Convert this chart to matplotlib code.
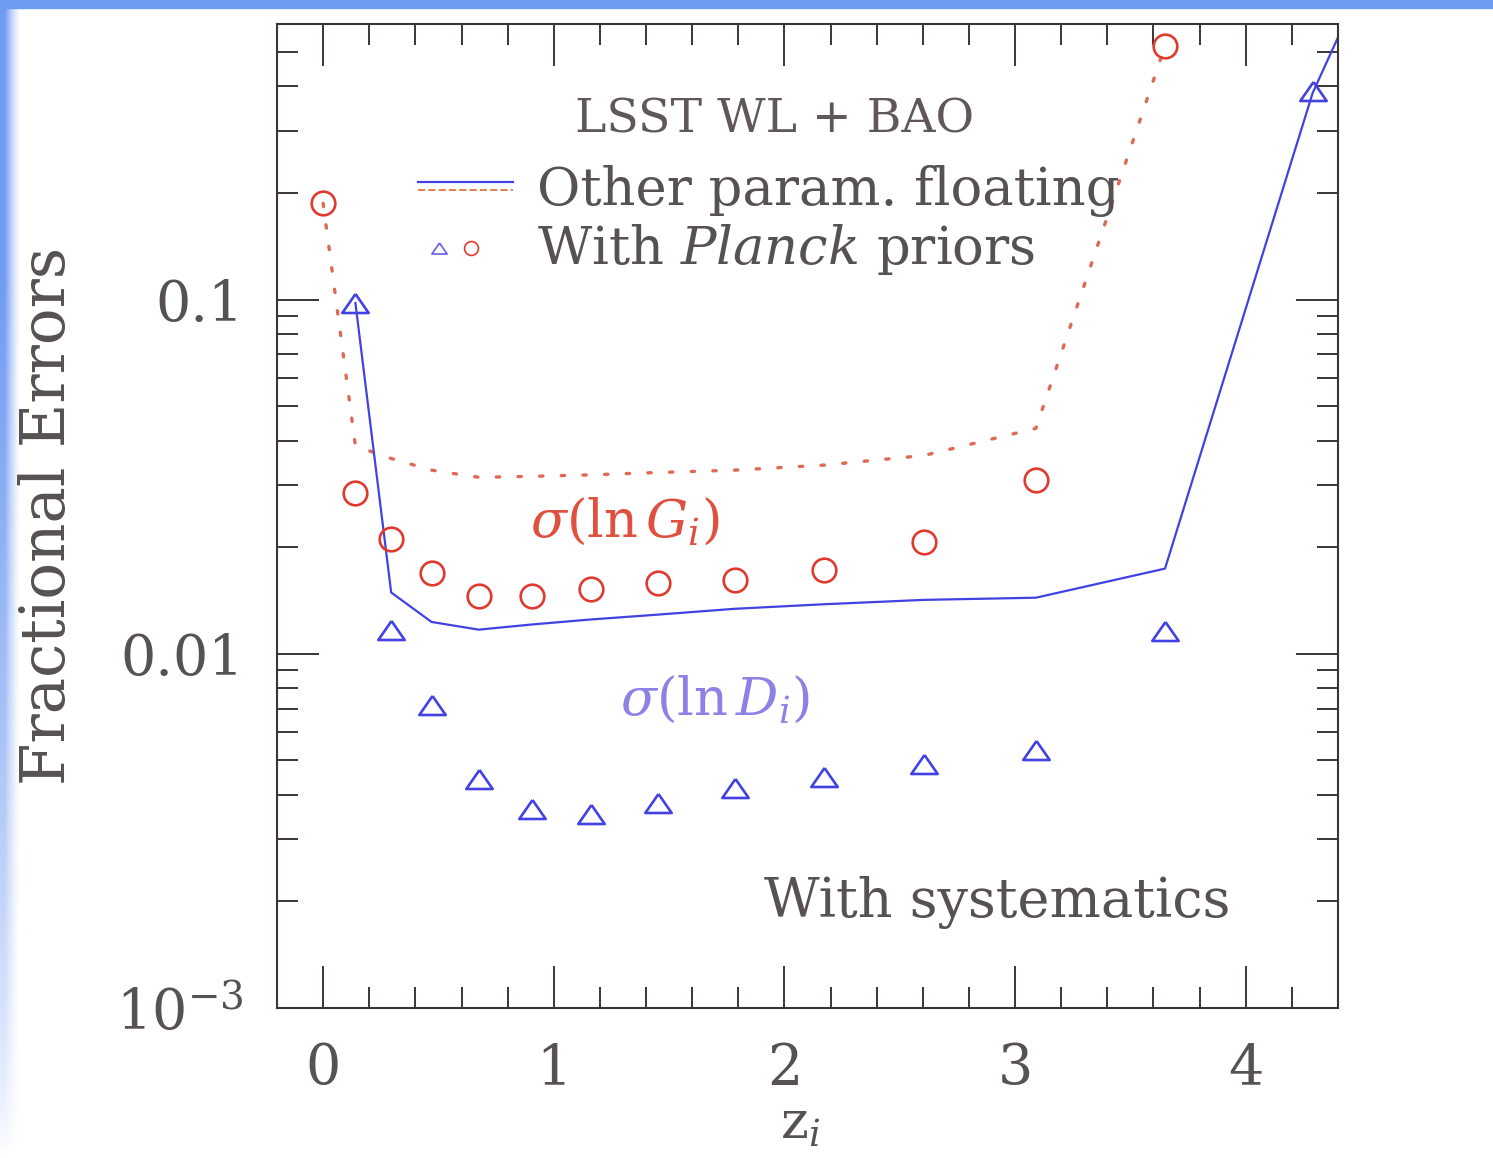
import numpy as np
import matplotlib
matplotlib.use("Agg")
import matplotlib.pyplot as plt
from matplotlib.lines import Line2D
from matplotlib.legend_handler import HandlerBase
from matplotlib.patches import Rectangle
from matplotlib.ticker import FixedLocator, MultipleLocator, LogLocator, NullFormatter

plt.rcParams['font.family'] = ['DejaVu Serif']
plt.rcParams['mathtext.fontset'] = 'dejavuserif'

# Redshift bins
z_bins = [0.0, 0.14, 0.295, 0.47, 0.675, 0.905, 1.16, 1.45, 1.785, 2.17, 2.605, 3.09, 3.65, 4.29]

# sigma(ln G_i): other parameters floating / with Planck priors (bins 0..12)
G_float = [0.187, 0.0386, 0.0356, 0.033, 0.0315, 0.0317, 0.032, 0.0325, 0.033, 0.0341, 0.0363, 0.0433, 0.52]
G_planck = [0.187, 0.0284, 0.0211, 0.0169, 0.0146, 0.0146, 0.0152, 0.0158, 0.0162, 0.0172, 0.0207, 0.0309, 0.52]

# sigma(ln D_i): other parameters floating (bins 1..13 plus the edge z=4.4) / with Planck priors
D_float_z = z_bins[1:] + [4.4]
D_float = [0.0978, 0.0149, 0.0123, 0.0117, 0.0121, 0.0125, 0.0129, 0.0134, 0.0138, 0.0142, 0.0144, 0.0174, 0.383, 0.55]
D_planck = [0.098, 0.0117, 0.00715, 0.00442, 0.00364, 0.00352, 0.00378, 0.00417, 0.0045, 0.00487, 0.00534, 0.0116, 0.388]

RED = '#e2392e'
RED_DOT = '#dc6a55'
BLUE = '#4242e4'
BLUE_TXT = '#8c82e6'
TXT = '#575151'
AX = '#3d3535'
FS = 38

fig = plt.figure(figsize=(14.93, 11.58), dpi=100)
fig.patch.set_facecolor('white')

# frame decoration: blue band along the top and a fading strip on the left
fig.patches.append(Rectangle((0, 1 - 8 / 1158), 1, 8 / 1158, transform=fig.transFigure,
                             color='#6f9cf2', zorder=0))
strip = fig.add_axes([0, 0, 24 / 1493, 1 - 8 / 1158])
strip.axis('off')
gx = np.linspace(0, 1, 40)
gy = np.linspace(1, 0, 200)
alpha = np.clip(1.3 - gx[None, :] * 1.5, 0, 1) ** 1.4 * np.clip(gy[:, None] * 1.3, 0, 1) ** 0.7
rgba = np.zeros((200, 40, 4))
rgba[..., 0] = 0.44
rgba[..., 1] = 0.61
rgba[..., 2] = 0.95
rgba[..., 3] = alpha
strip.imshow(rgba, aspect='auto', extent=[0, 1, 0, 1])

ax = fig.add_axes([277 / 1493, 1 - 1008 / 1158, 1061 / 1493, 984 / 1158])
ax.set_yscale('log')
ax.set_xlim(-0.2, 4.4)
ax.set_ylim(1e-3, 0.6)

# curves: other cosmological parameters floating
ax.plot(z_bins[:13], G_float, color=RED_DOT, lw=2.4, ls=(0, (1, 5.5)), dash_capstyle='round')
ax.plot(D_float_z, D_float, color=BLUE, lw=1.6)

# points: with Planck priors
tri = [(0, 0.72), (-1, -0.72), (1, -0.72), (0, 0.72)]
ax.plot(z_bins[:13], G_planck, ls='none', marker='o', ms=17, mfc='none', mec=RED, mew=1.9)
ax.plot(z_bins[1:], D_planck, ls='none', marker=tri, ms=19, mfc='none', mec=BLUE, mew=1.9)

# axes styling
for s in ax.spines.values():
    s.set_color(AX)
    s.set_linewidth(1.5)
ax.xaxis.set_major_locator(MultipleLocator(1))
ax.xaxis.set_minor_locator(MultipleLocator(0.2))
ax.yaxis.set_major_locator(FixedLocator([1e-3, 1e-2, 1e-1]))
ax.yaxis.set_minor_locator(LogLocator(base=10, subs=np.arange(2, 10)))
ax.yaxis.set_minor_formatter(NullFormatter())
ax.set_yticklabels(['10$^{-3}$', '0.01', '0.1'])
ax.set_xticklabels([str(int(v)) for v in ax.get_xticks()])
ax.tick_params(which='both', direction='in', top=True, right=True, colors=AX,
               labelcolor=TXT, labelsize=40, width=1.4)
ax.tick_params(which='major', length=30, pad=24)
ax.tick_params(which='minor', length=15)

ax.set_ylabel('Fractional Errors', fontsize=44, color=TXT)
ax.yaxis.set_label_coords(-0.188, 0.5)
ax.set_xlabel('z$_{i}$', fontsize=FS, color=TXT)
ax.xaxis.set_label_coords(0.493, -0.092)

ax.text(1.307, 0.0235, r'$\sigma(\ln G_i)$', color='#e0503f', fontsize=FS, ha='center', va='center')
ax.text(1.70, 0.0074, r'$\sigma(\ln D_i)$', color=BLUE_TXT, fontsize=FS, ha='center', va='center')
ax.text(0.679, 0.107, 'With systematics', transform=ax.transAxes, color=TXT, fontsize=39,
        ha='center', va='center')
ax.text(0.469, 0.903, 'LSST WL + BAO', transform=ax.transAxes, color='#605858', fontsize=34,
        ha='center', va='center')


class HandlerStacked(HandlerBase):
    """Draw a pair of line samples one above the other."""
    def create_artists(self, legend, orig_handle, xdescent, ydescent, width, height,
                       fontsize, trans):
        upper, lower = orig_handle
        yc = height / 2 - ydescent
        x0, x1 = -xdescent, width - xdescent
        a = Line2D([x0, x1], [yc + 0.12 * height] * 2, color=upper.get_color(),
                   lw=upper.get_linewidth(), ls=upper.get_linestyle(), transform=trans)
        b = Line2D([x0, x1], [yc - 0.1 * height] * 2, color=lower.get_color(),
                   lw=lower.get_linewidth(), ls=lower.get_linestyle(), transform=trans)
        return [a, b]


class HandlerMarkerPair(HandlerBase):
    """Draw two marker samples side by side."""
    def create_artists(self, legend, orig_handle, xdescent, ydescent, width, height,
                       fontsize, trans):
        out = []
        yc = height / 2 - ydescent - 0.08 * height
        for frac, h in zip((0.22, 0.56), orig_handle):
            m = Line2D([frac * width - xdescent], [yc], ls='none', marker=h.get_marker(),
                       ms=h.get_markersize(), mfc='none', mec=h.get_markeredgecolor(),
                       mew=h.get_markeredgewidth(), transform=trans)
            out.append(m)
        return out


h_line = (Line2D([], [], color=BLUE, lw=1.6), Line2D([], [], color='#e08050', lw=1.4, ls=(0, (3, 3))))
h_pts = (Line2D([], [], ls='none', marker=tri, ms=11, mfc='none', mec='#6060e0', mew=1.2),
         Line2D([], [], ls='none', marker='o', ms=10, mfc='none', mec=RED, mew=1.2))
leg = ax.legend([h_line, h_pts], ['Other param. floating', r'With $\mathit{Planck}$ priors'],
                handler_map={h_line: HandlerStacked(), h_pts: HandlerMarkerPair()},
                fontsize=FS, loc='upper left', bbox_to_anchor=(0.133, 0.857), frameon=False,
                handlelength=1.8, handletextpad=0.45, labelspacing=0.1, borderpad=0,
                borderaxespad=0)
for t in leg.get_texts():
    t.set_color(TXT)

fig.savefig('out.png', dpi=100, facecolor='white')
